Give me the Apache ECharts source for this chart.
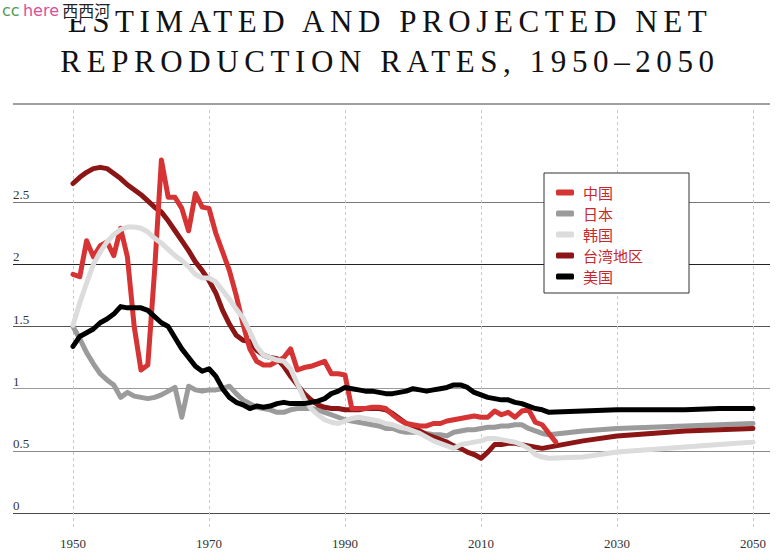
<!DOCTYPE html>
<html><head><meta charset="utf-8">
<script src="https://cdn.jsdelivr.net/npm/echarts@6/dist/echarts.min.js"></script>
<style>
html,body{margin:0;padding:0;background:#fff;}
#c{width:779px;height:558px;}
#c text[style*="31px"]{letter-spacing:5.6px;}
</style></head><body><div id="c"></div>
<script>
// ---- data ----
const titleLines = ['ESTIMATED AND PROJECTED NET', 'REPRODUCTION RATES, 1950\u20132050'];
const seriesNames = ['中国', '日本', '韩国', '台湾地区', '美国'];
const xTicks = [1950, 1970, 1990, 2010, 2030, 2050];
const yTicks = [0, 0.5, 1, 1.5, 2, 2.5];

const yearsChina = Array.from({length: 72}, (_, i) => 1950 + i);      // 1950-2021
const yearsHist = Array.from({length: 71}, (_, i) => 1950 + i);       // 1950-2020
const yearsProj = [2025, 2030, 2035, 2040, 2045, 2050];

const china = [
  1.92, 1.90, 2.19, 2.06, 2.15, 2.18, 2.07, 2.29, 2.06, 1.50,
  1.15, 1.19, 1.95, 2.84, 2.54, 2.54, 2.45, 2.27, 2.57, 2.46,
  2.45, 2.25, 2.10, 1.95, 1.75, 1.52, 1.32, 1.22, 1.19, 1.19,
  1.22, 1.25, 1.32, 1.15, 1.17, 1.18, 1.20, 1.22, 1.12, 1.12,
  1.11, 0.84, 0.84, 0.84, 0.85, 0.85, 0.84, 0.79, 0.75, 0.72,
  0.71, 0.70, 0.70, 0.72, 0.72, 0.74, 0.75, 0.76, 0.77, 0.78,
  0.77, 0.77, 0.82, 0.79, 0.81, 0.77, 0.82, 0.83, 0.73, 0.71,
  0.64, 0.57
];
const japanHist = [
  1.50, 1.40, 1.29, 1.20, 1.12, 1.07, 1.03, 0.93, 0.97, 0.94,
  0.93, 0.92, 0.93, 0.95, 0.98, 1.01, 0.77, 1.02, 0.99, 0.98,
  0.99, 0.99, 1.00, 1.02, 0.96, 0.91, 0.88, 0.85, 0.84, 0.83,
  0.81, 0.81, 0.83, 0.84, 0.84, 0.84, 0.83, 0.81, 0.79, 0.77,
  0.75, 0.74, 0.73, 0.72, 0.71, 0.70, 0.68, 0.68, 0.66, 0.65,
  0.65, 0.65, 0.64, 0.63, 0.63, 0.62, 0.65, 0.66, 0.67, 0.67,
  0.68, 0.69, 0.69, 0.70, 0.70, 0.71, 0.71, 0.68, 0.66, 0.64,
  0.63
];
const japanProj = [0.66, 0.68, 0.69, 0.70, 0.71, 0.72];
const koreaHist = [
  1.51, 1.69, 1.85, 2.00, 2.10, 2.18, 2.24, 2.28, 2.30, 2.30,
  2.29, 2.26, 2.21, 2.17, 2.12, 2.07, 2.03, 1.98, 1.92, 1.89,
  1.89, 1.86, 1.79, 1.72, 1.64, 1.57, 1.46, 1.34, 1.27, 1.25,
  1.23, 1.22, 1.16, 1.04, 0.92, 0.84, 0.79, 0.75, 0.73, 0.72,
  0.74, 0.76, 0.77, 0.76, 0.75, 0.74, 0.72, 0.71, 0.69, 0.68,
  0.66, 0.64, 0.61, 0.58, 0.56, 0.54, 0.52, 0.55, 0.56, 0.57,
  0.58, 0.60, 0.60, 0.59, 0.58, 0.57, 0.55, 0.52, 0.47, 0.45,
  0.44
];
const koreaProj = [0.45, 0.49, 0.51, 0.53, 0.55, 0.57];
const taiwanHist = [
  2.65, 2.70, 2.74, 2.77, 2.78, 2.77, 2.73, 2.69, 2.64, 2.60,
  2.56, 2.51, 2.46, 2.42, 2.35, 2.27, 2.19, 2.11, 2.02, 1.95,
  1.87, 1.77, 1.63, 1.52, 1.43, 1.39, 1.38, 1.31, 1.27, 1.25,
  1.24, 1.18, 1.10, 1.03, 0.96, 0.91, 0.87, 0.85, 0.84, 0.84,
  0.83, 0.83, 0.83, 0.84, 0.84, 0.84, 0.83, 0.80, 0.76, 0.72,
  0.69, 0.66, 0.63, 0.61, 0.59, 0.57, 0.54, 0.52, 0.49, 0.47,
  0.44, 0.49, 0.55, 0.55, 0.56, 0.56, 0.55, 0.54, 0.53, 0.52,
  0.53
];
const taiwanProj = [0.58, 0.62, 0.64, 0.66, 0.67, 0.68];
const usaHist = [
  1.34, 1.42, 1.45, 1.48, 1.53, 1.56, 1.60, 1.66, 1.65, 1.65,
  1.65, 1.63, 1.58, 1.53, 1.50, 1.41, 1.32, 1.25, 1.18, 1.14,
  1.16, 1.10, 1.00, 0.93, 0.89, 0.87, 0.84, 0.86, 0.85, 0.86,
  0.88, 0.89, 0.88, 0.88, 0.88, 0.89, 0.90, 0.92, 0.96, 0.98,
  1.01, 1.00, 0.99, 0.98, 0.98, 0.97, 0.96, 0.96, 0.97, 0.98,
  1.00, 0.99, 0.98, 0.99, 1.00, 1.01, 1.03, 1.03, 1.01, 0.97,
  0.95, 0.93, 0.92, 0.91, 0.91, 0.89, 0.88, 0.86, 0.84, 0.83,
  0.81
];
const usaProj = [0.82, 0.83, 0.83, 0.83, 0.84, 0.84];

// ---- helpers ----
function pairs(years, vals) { return years.map((y, i) => [y, vals[i]]); }
const histAndProj = (h, p) => pairs(yearsHist.concat(yearsProj), h.concat(p));

const colors = {
  '中国': '#d63434', '日本': '#9b9b9b', '韩国': '#dcdcdc', '台湾地区': '#8c1515', '美国': '#000000'
};
const serif = '"Liberation Serif", "DejaVu Serif", serif';

function lineSeries(name, data, z) {
  return {
    name, type: 'line', xAxisIndex: 2, yAxisIndex: 2, data, z,
    showSymbol: false, symbol: 'none', silent: true,
    lineStyle: { color: colors[name], width: 5, cap: 'round', join: 'round' },
    itemStyle: { color: colors[name] }
  };
}

const chart = echarts.init(document.getElementById('c'), null, { renderer: 'svg' });
const option = {
  animation: false,
  backgroundColor: '#fff',
  grid: [
    { left: 13, right: 9, top: 140, bottom: 45 },     // horizontal grid + y labels
    { left: 73, right: 26, top: 110, bottom: 29 },    // vertical dashed lines + x labels
    { left: 73, right: 26, top: 140, bottom: 45 }     // data
  ],
  xAxis: [
    { gridIndex: 0, type: 'value', min: 0, max: 1, show: false },
    { gridIndex: 1, type: 'value', min: xTicks[0], max: xTicks[xTicks.length - 1], interval: 20,
      axisLine: { show: false }, axisTick: { show: false },
      axisLabel: { color: '#333', fontSize: 13, fontFamily: serif, margin: 8,
        formatter: v => (xTicks.indexOf(v) >= 0 ? String(v) : '') },
      splitLine: { show: true, lineStyle: { color: '#c8c8c8', width: 1, type: [3, 3] } } },
    { gridIndex: 2, type: 'value', min: 1950, max: 2050, show: false }
  ],
  yAxis: [
    { gridIndex: 0, type: 'value', min: 0, max: 3, interval: 0.5,
      axisLine: { show: false }, axisTick: { show: false },
      axisLabel: { inside: true, margin: 0, verticalAlign: 'bottom', color: '#333', fontSize: 13,
        fontFamily: serif, padding: [0, 0, 1, 0],
        formatter: v => (yTicks.indexOf(v) >= 0 ? String(v) : '') },
      splitLine: { show: true, lineStyle: { width: 1,
        color: ['#4a4a4a', '#8a8a8a', '#9a9a9a', '#555555', '#222222', '#777777', 'rgba(0,0,0,0)'] } } },
    { gridIndex: 1, type: 'value', min: 0, max: 1, show: false },
    { gridIndex: 2, type: 'value', min: 0, max: 3, show: false }
  ],
  legend: {
    orient: 'vertical', left: 544, top: 173,
    data: seriesNames,
    icon: 'roundRect', itemWidth: 18, itemHeight: 6, itemGap: 6,
    padding: [12, 46, 9, 12],
    borderColor: '#333', borderWidth: 1, backgroundColor: '#fff',
    selectedMode: false,
    textStyle: { color: '#c8282d', fontSize: 15, fontFamily: '"Noto Sans CJK SC", sans-serif', padding: [0, 0, 0, 4] }
  },
  graphic: [
    { type: 'line', silent: true, shape: { x1: 13, y1: 104, x2: 770, y2: 104 },
      style: { stroke: '#808080', lineWidth: 1.5 } },
    { type: 'text', silent: true, x: 390, y: 21.7,
      style: { text: titleLines[0], fontSize: 31, fontFamily: serif, fill: '#111', align: 'center', verticalAlign: 'middle' } },
    { type: 'text', silent: true, x: 390, y: 61.2,
      style: { text: titleLines[1], fontSize: 31, fontFamily: serif, fill: '#111', align: 'center', verticalAlign: 'middle' } },
    { type: 'rect', silent: true, z: 10, shape: { x: 0, y: 0, width: 112, height: 19 }, style: { fill: '#fff' } },
    { type: 'text', silent: true, z: 11, x: 2, y: 2,
      style: { text: '{g|cc} {p|here} {b|西西河}', verticalAlign: 'top',
        rich: {
          g: { fill: '#4f9a55', fontSize: 16, fontFamily: '"DejaVu Sans", sans-serif' },
          p: { fill: '#d9509a', fontSize: 16, fontFamily: '"DejaVu Sans", sans-serif' },
          b: { fill: '#222', fontSize: 16, fontFamily: '"Noto Sans CJK SC", sans-serif' }
        } } }
  ],
  series: [
    lineSeries('日本', histAndProj(japanHist, japanProj), 2),
    lineSeries('台湾地区', histAndProj(taiwanHist, taiwanProj), 3),
    lineSeries('中国', pairs(yearsChina, china), 4),
    lineSeries('韩国', histAndProj(koreaHist, koreaProj), 5),
    lineSeries('美国', histAndProj(usaHist, usaProj), 6)
  ]
};
chart.setOption(option);
document.querySelectorAll('#c text').forEach(t => {
  if (titleLines.indexOf(t.textContent) >= 0) t.style.letterSpacing = '5.6px';
});
</script></body></html>
